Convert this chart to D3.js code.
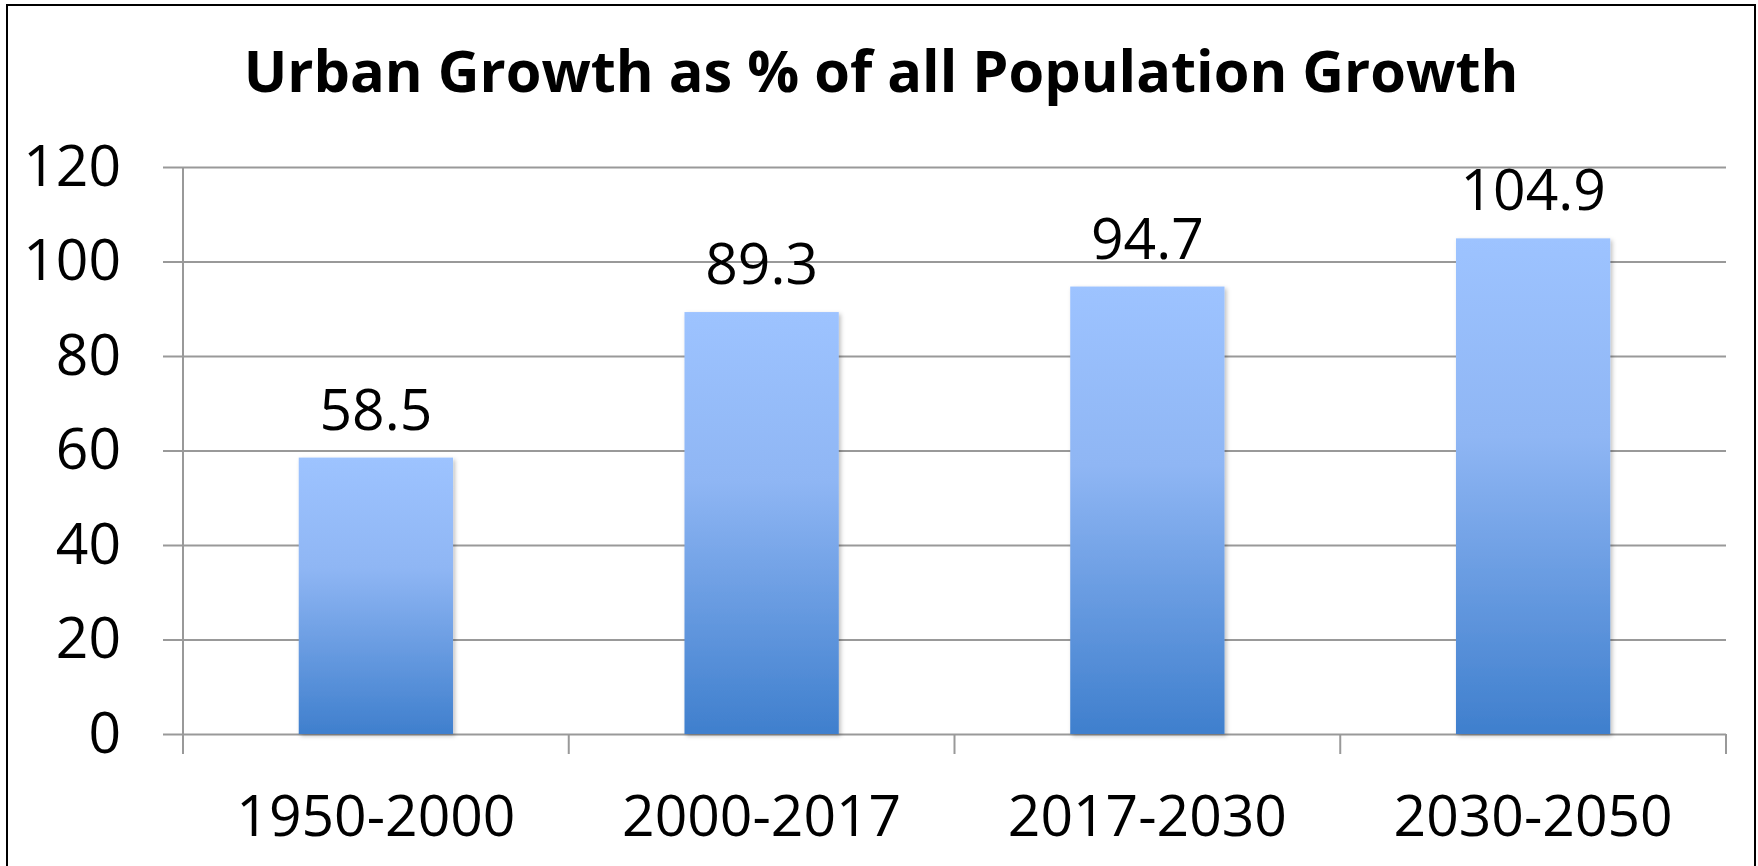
<!DOCTYPE html>
<html>
<head>
<meta charset="utf-8">
<script src="https://cdn.jsdelivr.net/npm/d3@7"></script>
<style>
  body { margin: 0; background: #fff; }
  text { font-family: "Open Sans", "Noto Sans", sans-serif; }
</style>
</head>
<body>
<script>
// data
const categories = ["1950-2000", "2000-2017", "2017-2030", "2030-2050"];
const values = [58.5, 89.3, 94.7, 104.9];
const yTicks = [0, 20, 40, 60, 80, 100, 120];
const title = "Urban Growth as % of all Population Growth";

const W = 1758, H = 866;
const margin = {top: 167, right: 32, bottom: 132, left: 183};
const plotRight = W - margin.right,
    plotBottom = H - margin.bottom;

const svg = d3.select("body")
    .append("svg")
    .attr("width", W)
    .attr("height", H);

// bar gradient + soft shadow
const defs = svg.append("defs");
const grad = defs.append("linearGradient")
    .attr("id", "barGrad")
    .attr("x1", 0).attr("y1", 0)
    .attr("x2", 0).attr("y2", 1);
grad.append("stop").attr("offset", "0%").attr("stop-color", "#9dc3ff");
grad.append("stop").attr("offset", "40%").attr("stop-color", "#8fb6f4");
grad.append("stop").attr("offset", "100%").attr("stop-color", "#3f7fcd");

const shadow = defs.append("filter").attr("id", "shadow")
    .attr("x", "-10%").attr("y", "-10%").attr("width", "130%").attr("height", "130%");
shadow.append("feDropShadow")
    .attr("dx", 2).attr("dy", 2).attr("stdDeviation", 2)
    .attr("flood-color", "#000").attr("flood-opacity", 0.25);

// outer frame (bottom edge runs off the picture)
svg.append("rect")
    .attr("x", 7).attr("y", 5)
    .attr("width", 1748).attr("height", H + 20)
    .attr("fill", "none")
    .attr("stroke", "#000")
    .attr("stroke-width", 2);

const y = d3.scaleLinear()
    .domain([0, 120])
    .range([plotBottom, margin.top]);

// band for the bars and one without padding for the category boundaries
const x = d3.scaleBand()
    .domain(categories)
    .range([margin.left, plotRight])
    .paddingInner(0.6)
    .paddingOuter(0.3);

const xb = d3.scaleBand()
    .domain(categories)
    .range([margin.left, plotRight]);

// y axis with gridlines
const yAxis = svg.append("g")
    .attr("transform", `translate(${margin.left},0)`)
    .call(d3.axisLeft(y)
        .tickValues(yTicks)
        .tickSize(-(plotRight - margin.left))
        .tickPadding(62));

yAxis.select(".domain").remove();
yAxis.selectAll(".tick line")
    .attr("x1", -20)
    .attr("stroke", "#999")
    .attr("stroke-width", 2);
yAxis.selectAll(".tick text")
    .attr("fill", "#000")
    .style("font-size", "57px");

// vertical axis line
svg.append("line")
    .attr("x1", margin.left).attr("x2", margin.left)
    .attr("y1", y(120)).attr("y2", plotBottom + 20)
    .attr("stroke", "#999")
    .attr("stroke-width", 2);

// category boundary ticks
const bounds = categories.map(c => xb(c)).concat([plotRight]);
svg.selectAll(".xtick")
    .data(bounds.slice(1))
    .enter()
    .append("line")
    .attr("class", "xtick")
    .attr("x1", d => d).attr("x2", d => d)
    .attr("y1", plotBottom).attr("y2", plotBottom + 20)
    .attr("stroke", "#999")
    .attr("stroke-width", 2);

// bars
svg.selectAll(".bar")
    .data(values)
    .enter()
    .append("rect")
    .attr("class", "bar")
    .attr("x", (d, i) => x(categories[i]))
    .attr("y", d => y(d))
    .attr("width", x.bandwidth())
    .attr("height", d => plotBottom - y(d))
    .attr("fill", "url(#barGrad)")
    .attr("filter", "url(#shadow)");

// value labels
svg.selectAll(".val")
    .data(values)
    .enter()
    .append("text")
    .attr("class", "val")
    .attr("x", (d, i) => x(categories[i]) + x.bandwidth() / 2)
    .attr("y", d => y(d) - 28)
    .attr("text-anchor", "middle")
    .style("font-size", "57px")
    .text(d => d.toFixed(1));

// category labels
svg.selectAll(".cat")
    .data(categories)
    .enter()
    .append("text")
    .attr("class", "cat")
    .attr("x", d => xb(d) + xb.bandwidth() / 2)
    .attr("y", 836)
    .attr("text-anchor", "middle")
    .style("font-size", "57px")
    .text(d => d);

// title
const t = svg.append("text")
    .attr("x", (7 + 1755) / 2)
    .attr("y", 92)
    .attr("text-anchor", "middle")
    .style("font-size", "62px")
    .style("font-weight", "bold")
    .text(title);

// squeeze the title to the width it has in the reference
const tw = t.node().getComputedTextLength();
if (tw > 1275) t.style("font-size", (62 * 1275 / tw) + "px");
</script>
</body>
</html>
